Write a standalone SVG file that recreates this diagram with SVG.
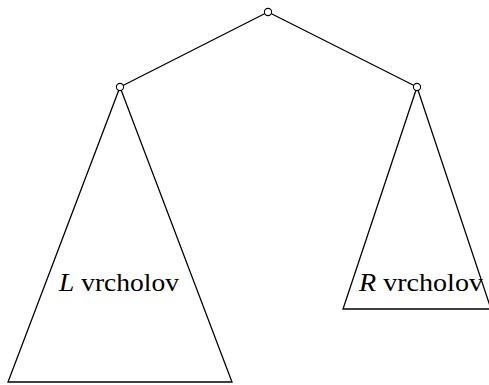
<svg xmlns="http://www.w3.org/2000/svg" width="489" height="385" viewBox="0 0 489 385">
<style>
.ln{stroke:#000;stroke-width:1.3;fill:none}
.nd{stroke:#000;stroke-width:1.1;fill:#fff}
.tx{font-family:"Liberation Serif",serif;font-size:25px;fill:#000}
</style>
<rect width="489" height="385" fill="#fff"/>
<g id="connectors">
<line class="ln" x1="268" y1="12" x2="120" y2="87"/>
<line class="ln" x1="268" y1="12" x2="417" y2="87"/>
</g>
<g id="left-subtree">
<polygon class="ln" points="120,87 8,382 232,382"/>
<text class="tx" x="59" y="291" textLength="120" lengthAdjust="spacingAndGlyphs"><tspan font-style="italic">L</tspan> vrcholov</text>
</g>
<g id="right-subtree">
<polygon class="ln" points="417,87 343,309 491,309"/>
<text class="tx" x="359" y="291" textLength="124" lengthAdjust="spacingAndGlyphs"><tspan font-style="italic">R</tspan> vrcholov</text>
</g>
<g id="root"><circle class="nd" cx="268" cy="12" r="3.6"/></g>
<g id="left-node"><circle class="nd" cx="120" cy="87" r="3.6"/></g>
<g id="right-node"><circle class="nd" cx="417" cy="87" r="3.6"/></g>
</svg>
